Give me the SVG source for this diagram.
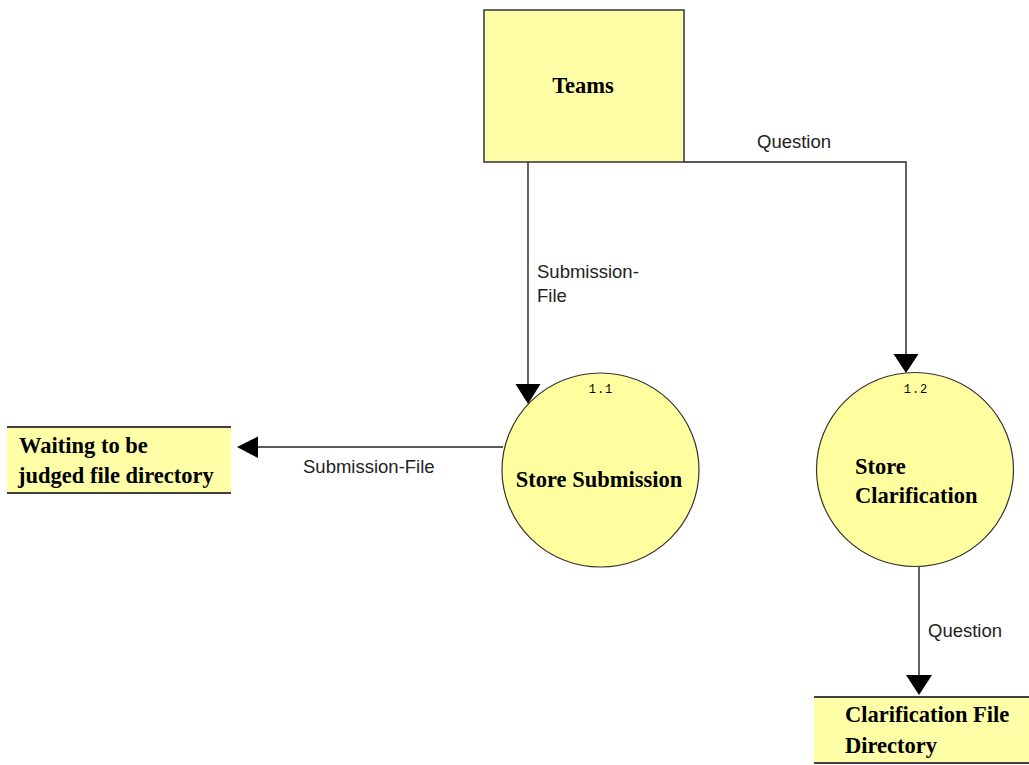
<svg xmlns="http://www.w3.org/2000/svg" width="1029" height="765" viewBox="0 0 1029 765">
<style>
.bg{fill:#ffffff}
.ent{fill:#ffffa8;stroke:#333333;stroke-width:1.5}
.proc{fill:#ffffa0;stroke:#333333;stroke-width:1.2}
.store{fill:#ffffa8;stroke:none}
.sline{stroke:#404040;stroke-width:2.2;fill:none}
.flow{stroke:#222222;stroke-width:1.4;fill:none}
.head{fill:#000000}
.nt{font-family:"Liberation Serif","Times New Roman",serif;font-weight:bold;font-size:22.5px;fill:#000000}
.lbl{font-family:"Liberation Sans",Arial,sans-serif;font-size:18.5px;fill:#222222}
.num{font-family:"Liberation Mono","Courier New",monospace;font-size:12px;fill:#000000;letter-spacing:1px}
</style>
<rect class="bg" x="0" y="0" width="1029" height="765"/>
<g id="connectors">
  <path class="flow" d="M528 162 V386"/>
  <polygon class="head" points="515.5,384 540.5,384 528,404"/>
  <path class="flow" d="M684 162 H906 V356"/>
  <polygon class="head" points="893.5,354 918.5,354 906,373"/>
  <path class="flow" d="M503 447 H256"/>
  <polygon class="head" points="258,436.5 258,458 237,447"/>
  <path class="flow" d="M919 566 V677"/>
  <polygon class="head" points="906,675 932,675 919,695"/>
  <text class="lbl" x="757" y="148">Question</text>
  <text class="lbl" x="537" y="278">Submission-</text>
  <text class="lbl" x="537" y="302">File</text>
  <text class="lbl" x="303" y="473">Submission-File</text>
  <text class="lbl" x="928" y="637">Question</text>
</g>
<g id="teams">
  <rect class="ent" x="484" y="10" width="200" height="152"/>
  <text class="nt" x="583" y="93" text-anchor="middle">Teams</text>
</g>
<g id="store-submission">
  <ellipse class="proc" cx="600.5" cy="470" rx="98.5" ry="97"/>
  <text class="num" x="601" y="393" text-anchor="middle">1.1</text>
  <text class="nt" x="599" y="487" text-anchor="middle">Store Submission</text>
</g>
<g id="store-clarification">
  <ellipse class="proc" cx="915" cy="469.5" rx="98.5" ry="97"/>
  <text class="num" x="916" y="393" text-anchor="middle">1.2</text>
  <text class="nt" x="855" y="474">Store</text>
  <text class="nt" x="855" y="503">Clarification</text>
</g>
<g id="waiting-store">
  <rect class="store" x="7" y="427" width="224" height="66"/>
  <path class="sline" d="M7 427 H231 M7 493 H231"/>
  <text class="nt" x="19" y="453">Waiting to be</text>
  <text class="nt" x="18" y="483">judged file directory</text>
</g>
<g id="clarification-store">
  <rect class="store" x="814" y="697" width="215" height="66"/>
  <path class="sline" d="M814 697 H1029 M814 763 H1029"/>
  <text class="nt" x="845" y="722">Clarification File</text>
  <text class="nt" x="845" y="753">Directory</text>
</g>
</svg>
